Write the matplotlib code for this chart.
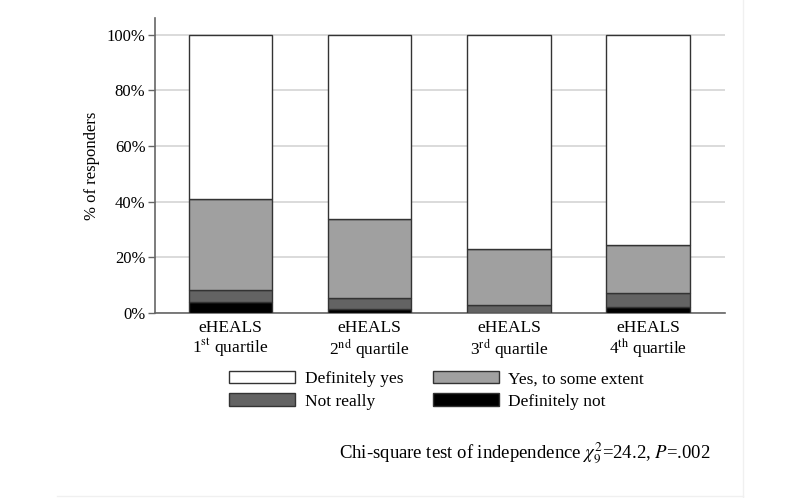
import matplotlib
matplotlib.use("Agg")
import matplotlib.pyplot as plt
from matplotlib.lines import Line2D

plt.rcParams['font.family'] = ['Liberation Serif', 'DejaVu Serif']
plt.rcParams['mathtext.fontset'] = 'stix'

# data (% of responders)
groups = ["eHEALS\n1$^{\\mathrm{st}}$ quartile", "eHEALS\n2$^{\\mathrm{nd}}$ quartile",
          "eHEALS\n3$^{\\mathrm{rd}}$ quartile", "eHEALS\n4$^{\\mathrm{th}}$ quartile"]
definitely_not = [3.8, 1.3, 0.0, 2.3]
not_really = [4.6, 4.1, 2.8, 4.9]
yes_some_extent = [32.6, 28.5, 20.1, 17.4]
definitely_yes = [59.0, 66.1, 77.1, 75.4]

series = [
    ("Definitely not", definitely_not, "black"),
    ("Not really", not_really, "#636363"),
    ("Yes, to some extent", yes_some_extent, "#a0a0a0"),
    ("Definitely yes", definitely_yes, "white"),
]

fig = plt.figure(figsize=(8, 4.98), dpi=100)
ax = fig.add_axes([0.194, 0.3715, 0.712, 0.5925])

x = list(range(len(groups)))
bottom = [0.0] * len(groups)
handles = {}
for name, vals, col in series:
    b = ax.bar(x, vals, width=0.6, bottom=bottom, color=col,
               edgecolor="#333333", linewidth=1.0, label=name, zorder=3)
    handles[name] = b
    bottom = [bt + v for bt, v in zip(bottom, vals)]

ax.set_xlim(-0.54, 3.55)
ax.set_ylim(0, 106)
ax.set_yticks([0, 20, 40, 60, 80, 100])
ax.set_yticklabels(["0%", "20%", "40%", "60%", "80%", "100%"], fontsize=12)
ax.set_xticks(x)
ax.set_xticklabels(groups, fontsize=12.5, linespacing=1.05)
ax.tick_params(axis='x', length=0, pad=5)
ax.tick_params(axis='y', length=5, width=1, color="#666666", pad=2)
ax.yaxis.grid(True, color="#d4d4d4", linewidth=1.2, zorder=0)
ax.set_axisbelow(True)
for s in ["top", "right"]:
    ax.spines[s].set_visible(False)
for s in ["left", "bottom"]:
    ax.spines[s].set_color("#666666")
    ax.spines[s].set_linewidth(1.2)
ax.set_ylabel("% of responders", fontsize=12, labelpad=5)

order = ["Definitely yes", "Not really", "Yes, to some extent", "Definitely not"]
fig.legend([handles[n] for n in order], order, ncol=2, loc="center",
           bbox_to_anchor=(0.546, 0.216), frameon=False, fontsize=12.5,
           handlelength=3.8, handleheight=0.7, handletextpad=0.55,
           columnspacing=1.7, labelspacing=0.35)

fig.text(0.888, 0.09, r"Chi-square test of independence $\chi^2_9$=24.2, $P$=.002",
         ha="right", va="center", fontsize=13.5)

# faint frame of the original figure
fig.add_artist(Line2D([0.929, 0.929], [0.0, 1.0], color="#f0f0f0", linewidth=1))
fig.add_artist(Line2D([0.071, 0.929], [0.004, 0.004], color="#f0f0f0", linewidth=1))

fig.savefig("out.png", dpi=100)
